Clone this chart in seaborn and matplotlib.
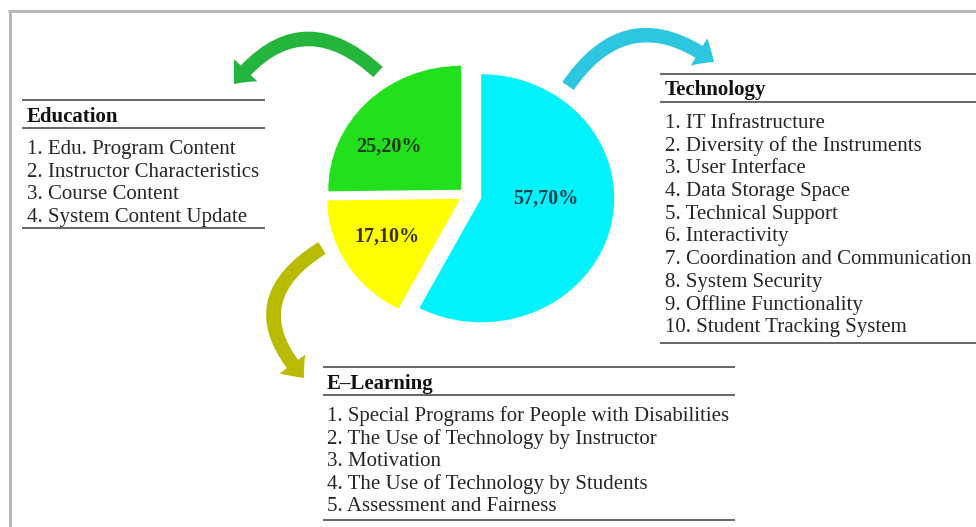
import matplotlib
matplotlib.use("Agg")
import matplotlib.pyplot as plt
import seaborn as sns
from matplotlib.patches import FancyArrowPatch

# ---------------- data ----------------
categories = ["Education", "E–Learning", "Technology"]
shares = [25.2, 17.1, 57.7]
pct_labels = ["25,20%", "17,10%", "57,70%"]

education_items = ["1. Edu. Program Content",
                   "2. Instructor Characteristics",
                   "3. Course Content",
                   "4. System Content Update"]
technology_items = ["1. IT Infrastructure",
                    "2. Diversity of the Instruments",
                    "3. User Interface",
                    "4. Data Storage Space",
                    "5. Technical Support",
                    "6. Interactivity",
                    "7. Coordination and Communication",
                    "8. System Security",
                    "9. Offline Functionality",
                    "10. Student Tracking System"]
elearning_items = ["1. Special Programs for People with Disabilities",
                   "2. The Use of Technology by Instructor",
                   "3. Motivation",
                   "4. The Use of Technology by Students",
                   "5. Assessment and Fairness"]

# ---------------- style ----------------
sns.set_theme(style="white")
plt.rcParams['font.family'] = ['Liberation Serif', 'DejaVu Serif']
slice_colors = sns.color_palette(["#22e01c", "#ffff00", "#00f2fb"])
label_colors = ["#1a3a12", "#333310", "#10404a"]
arrow_colors = ["#25b53c", "#b9bb00", "#2cc6e0"]

W, H = 976, 527
fig = plt.figure(figsize=(W / 100, H / 100), dpi=100)
fig.patch.set_facecolor("white")

# ---------------- pie ----------------
cx, cy, rx, ry = 467, 195, 133, 124
lim = 1.25
axp = fig.add_axes([(cx - lim * rx) / W, (H - (cy + lim * ry)) / H,
                    2 * lim * rx / W, 2 * lim * ry / H])
wedges, _ = axp.pie(shares, colors=slice_colors, startangle=90, counterclock=True,
                    explode=[0.06, 0.06, 0.11], wedgeprops=dict(linewidth=0))
axp.set_aspect("auto")
axp.set_xlim(-lim, lim)
axp.set_ylim(-lim, lim)
axp.axis("off")

# ---------------- overlay (pixel coordinates) ----------------
ax = fig.add_axes([0, 0, 1, 1])
ax.set_xlim(0, W)
ax.set_ylim(H, 0)
ax.axis("off")
ax.patch.set_alpha(0)

# frame
ax.plot([8, W], [11, 11], color="#b8b8b8", lw=2.2, solid_capstyle="butt")
ax.plot([10, 10], [11, H], color="#b8b8b8", lw=2.2, solid_capstyle="butt")

# percentage labels (baseline positions)
label_pos = [(389, 152), (387, 242), (546, 204)]
for (x, y), txt, c in zip(label_pos, pct_labels, label_colors):
    ax.text(x, y, txt, ha="center", va="baseline", fontsize=14.5,
            fontweight="bold", color=c)

line_kw = dict(color="#5a5a5a", lw=1.3, solid_capstyle="butt")
ITEM_FS = 15


def draw_box(x0, x1, tx, y_top, y_title, y_under, y_first, step, y_bottom, title, items):
    ax.plot([x0, x1], [y_top, y_top], **line_kw)
    ax.text(tx, y_title, title, ha="left", va="baseline", fontsize=ITEM_FS,
            fontweight="bold", color="#111111")
    ax.plot([x0, x1], [y_under, y_under], **line_kw)
    for i, it in enumerate(items):
        ax.text(tx, y_first + i * step, it, ha="left", va="baseline",
                fontsize=ITEM_FS, color="#262626")
    ax.plot([x0, x1], [y_bottom, y_bottom], **line_kw)


draw_box(22, 265, 27, 100, 122, 128, 154, 22.7, 228, categories[0], education_items)
draw_box(660, W, 665, 74, 95, 102, 128, 22.7, 343, categories[2], technology_items)
draw_box(323, 735, 327, 367, 389, 395, 421, 22.6, 520, categories[1], elearning_items)

# curved arrows
arrows = [((378, 72), (234, 84), 0.54, arrow_colors[0]),
          ((568, 86), (714, 62), -0.52, arrow_colors[2]),
          ((322, 248), (304, 378), 0.6, arrow_colors[1])]
for a, b, rad, c in arrows:
    p = FancyArrowPatch(a, b, connectionstyle=f"arc3,rad={rad}",
                        arrowstyle="simple,head_length=13,head_width=23,tail_width=10",
                        color=c, shrinkA=0, shrinkB=0, mutation_scale=1, lw=0)
    ax.add_patch(p)

fig.savefig("out.png", dpi=100, facecolor="white")
